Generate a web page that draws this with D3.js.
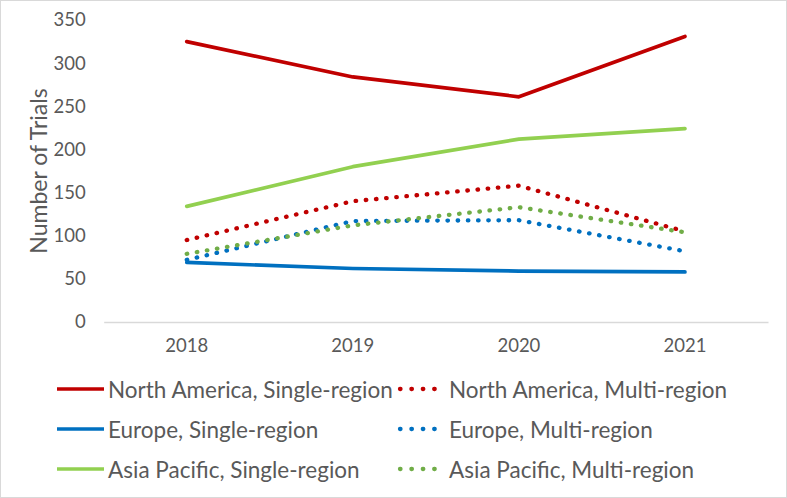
<!DOCTYPE html>
<html><head><meta charset="utf-8">
<script src="https://cdn.jsdelivr.net/npm/d3@7"></script>
<style>body{margin:0;background:#fff}svg{display:block}text{font-family:Lato,"Open Sans",sans-serif;fill:#595959}</style>
</head><body><svg id="c" width="787" height="498"></svg>
<script>
const years = ["2018","2019","2020","2021"];
const naSingle = [325, 284, 261, 331];
const naMulti = [95, 140, 158, 105];
const euSingle = [69, 62, 59, 58];
const euMulti = [72, 117, 118, 82];
const apSingle = [134, 180, 212, 224];
const apMulti = [79, 112, 133, 104];
const yTicks = [0,50,100,150,200,250,300,350];

const series = [
  {name:"North America, Single-region", values:naSingle, color:"#C00000", dotted:false},
  {name:"North America, Multi-region", values:naMulti, color:"#C00000", dotted:true},
  {name:"Europe, Single-region", values:euSingle, color:"#0070C0", dotted:false},
  {name:"Europe, Multi-region", values:euMulti, color:"#0070C0", dotted:true},
  {name:"Asia Pacific, Single-region", values:apSingle, color:"#92D050", dotted:false},
  {name:"Asia Pacific, Multi-region", values:apMulti, color:"#70AD47", dotted:true}
];

const svg = d3.select("#c");
svg.append("rect").attr("x",0.5).attr("y",0.5).attr("width",786).attr("height",497)
  .attr("fill","#fff").attr("stroke","#d9d9d9");

const m = {l:103.7, r:768, t:20, b:322};
const x = d3.scaleBand().domain(years).range([m.l, m.r]);
const y = d3.scaleLinear().domain([0,350]).range([m.b, m.t]);

// y tick labels
const ya = svg.append("g").attr("transform",`translate(${m.l},0)`)
  .call(d3.axisLeft(y).tickValues(yTicks).tickSize(0).tickPadding(18));
ya.select(".domain").remove();
ya.selectAll("text").style("font-family","Lato").style("font-size","18.5px").attr("fill","#595959");

// x axis
const xa = svg.append("g").attr("transform",`translate(0,${m.b})`)
  .call(d3.axisBottom(x).tickSize(0).tickPadding(17));
xa.select(".domain").attr("stroke","#d9d9d9").attr("stroke-width",1.5);
xa.selectAll("text").style("font-family","Lato").style("font-size","18.5px").attr("fill","#595959");

svg.append("text").attr("transform",`translate(38,${(m.t+m.b)/2}) rotate(-90)`)
  .attr("text-anchor","middle").attr("dominant-baseline","central")
  .style("font-size","23px").text("Number of Trials");

const line = d3.line().x((d,i)=>x(years[i])+x.bandwidth()/2).y(d=>y(d)).curve(d3.curveLinear);

series.forEach(s=>{
  const p = svg.append("path").datum(s.values).attr("d",line).attr("fill","none")
    .attr("stroke",s.color).attr("stroke-linejoin","round");
  if(s.dotted) p.attr("stroke-width",4.3).attr("stroke-dasharray","0.5 9.7").attr("stroke-linecap","round");
  else p.attr("stroke-width",3.7).attr("stroke-linecap","round");
});

// legend
const rows = [389, 429, 469];
const cols = [57, 398];
series.forEach((s,i)=>{
  const cx = cols[i%2], cy = rows[Math.floor(i/2)];
  const g = svg.append("g");
  const l = g.append("line").attr("y1",cy).attr("y2",cy).attr("stroke",s.color);
  if(s.dotted) l.attr("x1",cx+2).attr("x2",cx+47).attr("stroke-width",4.3)
    .attr("stroke-dasharray","0.5 10.9").attr("stroke-linecap","round");
  else l.attr("x1",cx).attr("x2",cx+47).attr("stroke-width",3.7);
  g.append("text").attr("x",cx+51).attr("y",cy).attr("dominant-baseline","central")
    .style("font-size","22.5px").text(s.name);
});
</script></body></html>
